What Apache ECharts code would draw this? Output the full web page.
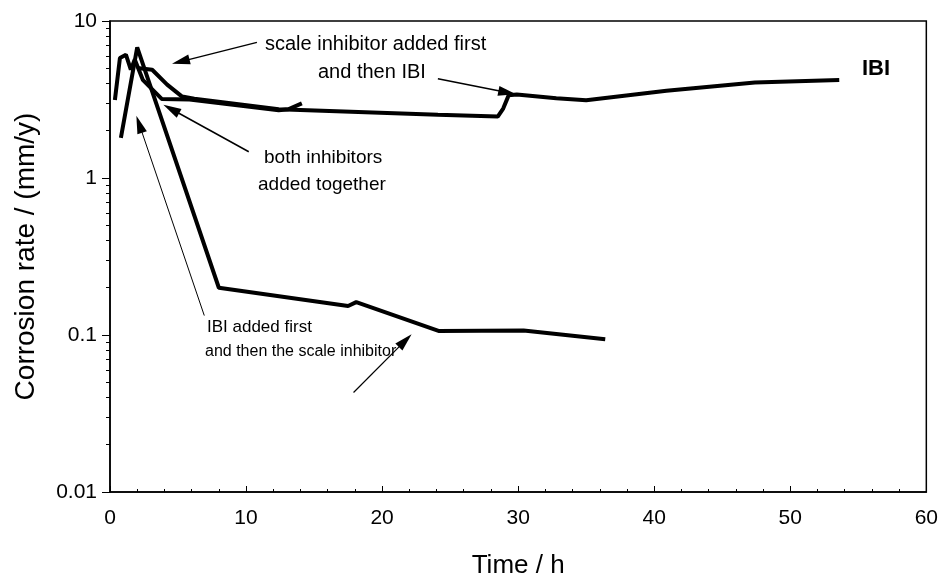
<!DOCTYPE html>
<html>
<head>
<meta charset="utf-8">
<script src="https://cdn.jsdelivr.net/npm/echarts@6/dist/echarts.min.js"></script>
<style>
  html, body { margin: 0; padding: 0; background: #fff; }
  #chart { width: 941px; height: 584px; }
</style>
</head>
<body>
<div id="chart"></div>
<script>
// time in hours, corrosion rate in mm/y

// IBI added first and then the scale inhibitor
const timeIbiFirst = [0.8, 2.0, 8.0, 17.5, 18.1, 24.2, 30.4, 36.4];
const rateIbiFirst = [1.8, 6.8, 0.2, 0.153, 0.162, 0.106, 0.107, 0.094];

// scale inhibitor added first and then IBI
const timeScaleFirst = [2.0, 3.1, 4.2, 5.3, 6.2, 12.4, 24.1, 28.5, 28.9, 29.3, 29.9, 32.8, 35.0, 40.9, 47.4, 53.6];
const rateScaleFirst = [5.02, 4.89, 3.93, 3.3, 3.2, 2.74, 2.53, 2.46, 2.77, 3.36, 3.4, 3.22, 3.13, 3.59, 4.06, 4.21];

// both inhibitors added together
const timeTogether = [0.36, 0.73, 1.17, 1.53, 1.82, 2.41, 3.8, 5.84, 12.4, 13.1, 14.1];
const rateTogether = [3.14, 5.82, 6.1, 4.9, 5.68, 4.22, 3.19, 3.16, 2.7, 2.74, 2.99];

const yMinorTicks = [0.02, 0.03, 0.04, 0.05, 0.06, 0.07, 0.08, 0.09,
  0.2, 0.3, 0.4, 0.5, 0.6, 0.7, 0.8, 0.9, 2, 3, 4, 5, 6, 7, 8, 9];

// annotation arrows: [fromTime, fromRate, toTime, toRate]
const arrowScaleText = [10.8, 7.31, 5.2, 5.51];
const arrowIbiText = [24.1, 4.29, 29.2, 3.5];
const arrowBothText = [10.2, 1.47, 4.5, 2.75];
const arrowIbiFirstUp = [6.93, 0.133, 2.15, 2.2];
const arrowIbiFirstLow = [17.9, 0.043, 21.7, 0.092];

const FONT = "'Liberation Sans', Arial, sans-serif";

function pairs(xs, ys) {
  return xs.map((x, i) => [x, ys[i]]);
}

function arrow(a, width) {
  return [
    { coord: [a[0], a[1]], lineStyle: { width: width } },
    { coord: [a[2], a[3]] },
  ];
}

const lineStyle = { color: "#000", width: 4 };

const chart = echarts.init(document.getElementById("chart"));
chart.setOption({
  animation: false,
  backgroundColor: "#fff",
  grid: {
    left: 110, right: 7, top: 21, bottom: 92,
    show: true, borderColor: "#000", borderWidth: 1.5,
  },
  xAxis: {
    type: "value",
    min: 0, max: 60, interval: 10,
    name: "Time / h",
    nameLocation: "middle",
    nameGap: 61,
    nameTextStyle: { fontFamily: FONT, fontSize: 26, color: "#000" },
    axisLine: { lineStyle: { color: "#000", width: 1.5 } },
    axisTick: { inside: true, length: 6, lineStyle: { color: "#000" } },
    minorTick: { show: true, splitNumber: 5, length: 3, lineStyle: { color: "#000" } },
    axisLabel: { fontFamily: FONT, fontSize: 21, color: "#000", margin: 16 },
    splitLine: { show: false },
  },
  yAxis: [
    {
      type: "log",
      min: 0.01, max: 10, logBase: 10,
      name: "Corrosion rate / (mm/y)",
      nameLocation: "middle",
      nameGap: 70,
      nameTextStyle: { fontFamily: FONT, fontSize: 28, color: "#000" },
      axisLine: { lineStyle: { color: "#000", width: 1.5 } },
      axisTick: { length: 8, lineStyle: { color: "#000" } },
      axisLabel: {
        fontFamily: FONT, fontSize: 21, color: "#000", margin: 13,
        formatter: (v) => String(v),
      },
      splitLine: { show: false },
    },
    {
      type: "log",
      min: 0.01, max: 10, logBase: 10,
      position: "left",
      axisLine: { show: false },
      axisTick: { show: true, length: 4, customValues: yMinorTicks, lineStyle: { color: "#000" } },
      axisLabel: { show: false },
      splitLine: { show: false },
    },
  ],
  series: [
    {
      type: "line",
      data: pairs(timeIbiFirst, rateIbiFirst),
      symbol: "none",
      lineStyle: lineStyle,
      markLine: {
        silent: true,
        symbol: ["none", "triangle"],
        symbolSize: [10, 18],
        label: { show: false },
        lineStyle: { color: "#000", width: 1.5, type: "solid" },
        data: [
          arrow(arrowScaleText, 1.5),
          arrow(arrowIbiText, 1.5),
          arrow(arrowBothText, 1.5),
          arrow(arrowIbiFirstUp, 1),
          arrow(arrowIbiFirstLow, 1.2),
        ],
      },
    },
    {
      type: "line",
      data: pairs(timeScaleFirst, rateScaleFirst),
      symbol: "none",
      lineStyle: lineStyle,
    },
    {
      type: "line",
      data: pairs(timeTogether, rateTogether),
      symbol: "none",
      lineStyle: lineStyle,
    },
  ],
  graphic: [
    {
      type: "text", left: 265, top: 34,
      style: { text: "scale inhibitor added first", font: "20px " + FONT, fill: "#000" },
    },
    {
      type: "text", left: 318, top: 62,
      style: { text: "and then IBI", font: "20px " + FONT, fill: "#000" },
    },
    {
      type: "text", left: 264, top: 148,
      style: { text: "both inhibitors", font: "19px " + FONT, fill: "#000" },
    },
    {
      type: "text", left: 258, top: 175,
      style: { text: "added together", font: "19px " + FONT, fill: "#000" },
    },
    {
      type: "text", left: 207, top: 319,
      style: { text: "IBI added first", font: "17px " + FONT, fill: "#000" },
    },
    {
      type: "text", left: 205, top: 344,
      style: { text: "and then the scale inhibitor", font: "16px " + FONT, fill: "#000" },
    },
    {
      type: "text", left: 862, top: 58,
      style: { text: "IBI", font: "bold 22px " + FONT, fill: "#000" },
    },
  ],
});
</script>
</body>
</html>
